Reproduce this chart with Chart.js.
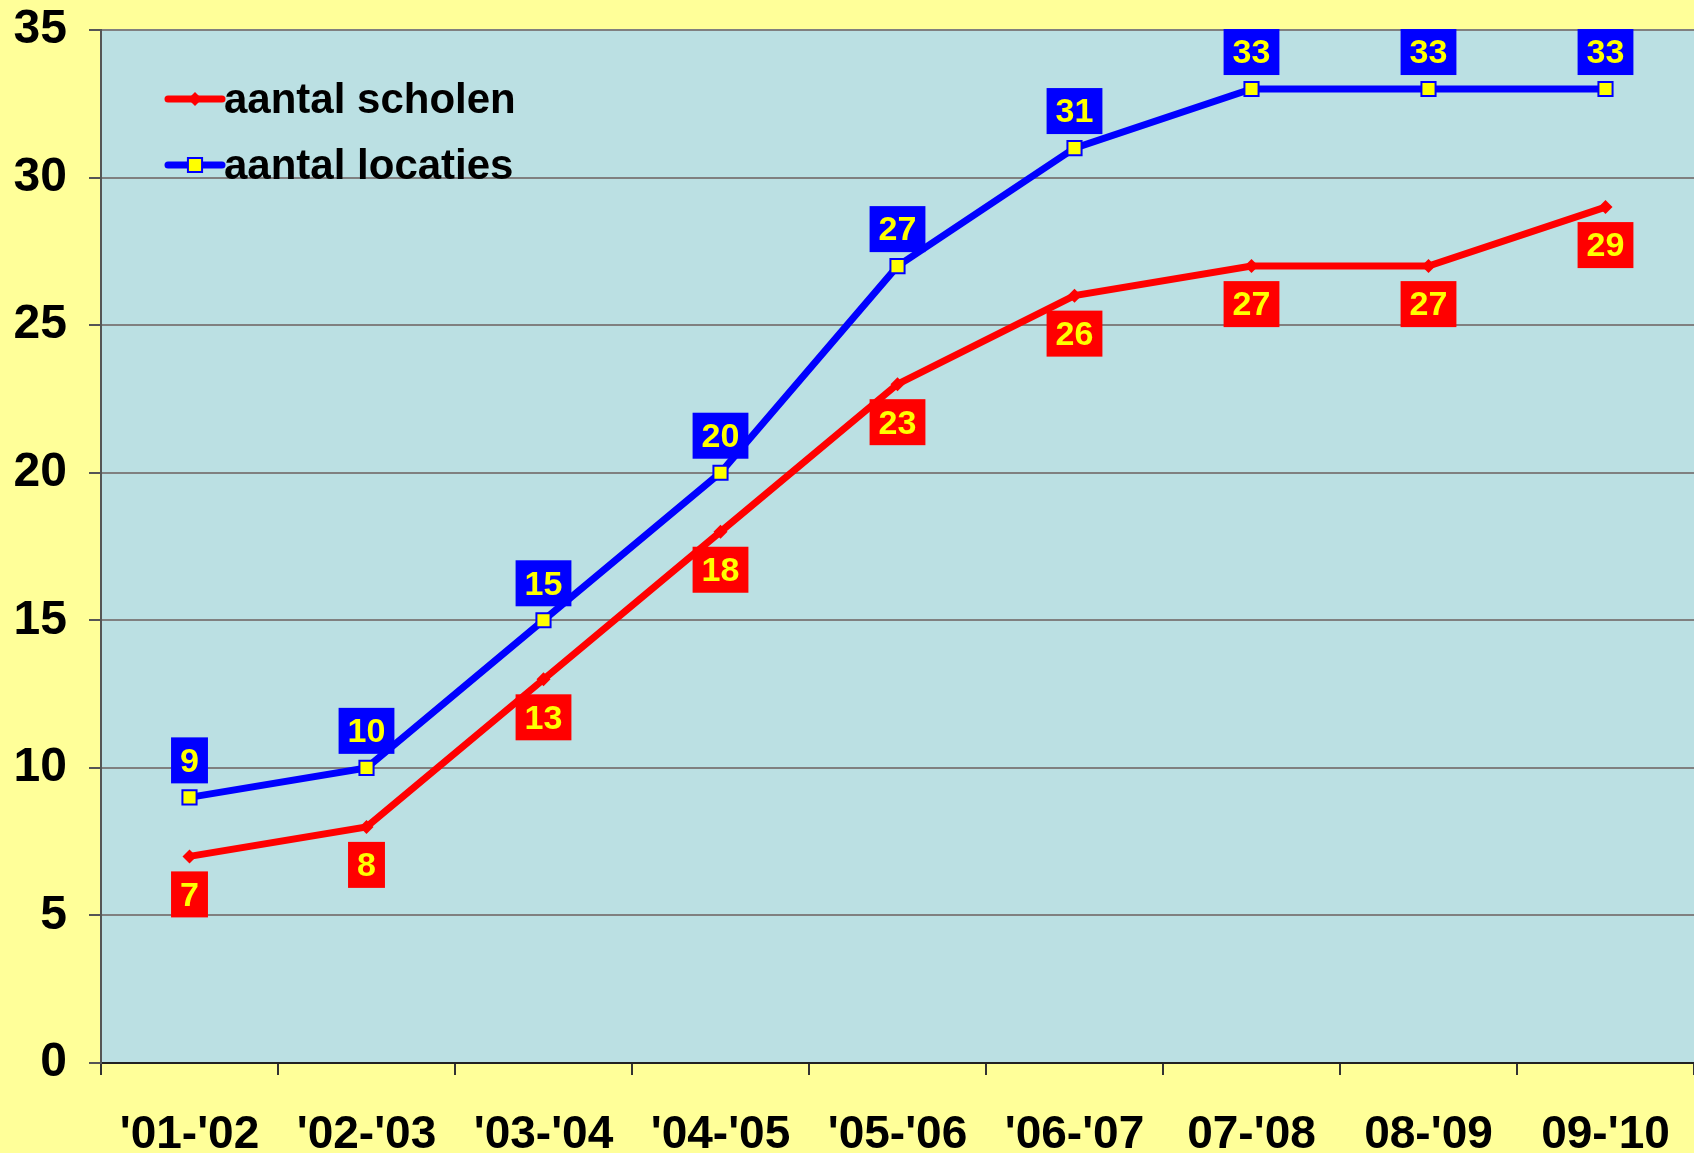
<!DOCTYPE html>
<html>
<head>
<meta charset="utf-8">
<script src="https://cdn.jsdelivr.net/npm/chart.js@4.4.0/dist/chart.umd.min.js"></script>
<style>
  html, body { margin: 0; padding: 0; background: #FFFF99; overflow: hidden; }
  canvas { display: block; }
</style>
</head>
<body>
<canvas id="chart" width="1694" height="1153"></canvas>
<script>
// --- DATA ---
const schooljaren = ["'01-'02", "'02-'03", "'03-'04", "'04-'05", "'05-'06", "'06-'07", "07-'08", "08-'09", "09-'10"];
const aantalScholen = [7, 8, 13, 18, 23, 26, 27, 27, 29];
const aantalLocaties = [9, 10, 15, 20, 27, 31, 33, 33, 33];
const yTicks = [0, 5, 10, 15, 20, 25, 30, 35];

const FONT = 'Liberation Sans, Arial, sans-serif';

// achtergrond van het plotgebied
const plotBackground = {
    id: 'plotBackground',
    beforeDraw(chart) {
        const { ctx, chartArea: a } = chart;
        ctx.save();
        ctx.fillStyle = '#BBE0E3';
        ctx.fillRect(a.left, a.top, a.right - a.left, a.bottom - a.top);
        ctx.restore();
    }
};

// waardelabels: blauw boven, rood onder
const valueBoxes = {
    id: 'valueBoxes',
    afterDatasetsDraw(chart) {
        const ctx = chart.ctx;
        ctx.save();
        ctx.font = 'bold 34px ' + FONT;
        ctx.textAlign = 'center';
        ctx.textBaseline = 'middle';
        chart.data.datasets.forEach((ds, i) => {
            const meta = chart.getDatasetMeta(i);
            const above = ds.labelPos === 'above';
            meta.data.forEach((pt, j) => {
                const txt = String(ds.data[j]);
                const w = ctx.measureText(txt).width + 18;
                const h = 46;
                const cy = above ? pt.y - 37 : pt.y + 38;
                ctx.fillStyle = ds.borderColor;
                ctx.fillRect(pt.x - w / 2, cy - h / 2, w, h);
                ctx.fillStyle = '#FFFF00';
                ctx.fillText(txt, pt.x, cy + 2);
            });
        });
        ctx.restore();
    }
};

// legenda binnen het plotgebied
const innerLegend = {
    id: 'innerLegend',
    afterDatasetsDraw(chart) {
        const ctx = chart.ctx;
        ctx.save();
        chart.data.datasets.forEach((ds, i) => {
            const y = 99 + i * 66;
            ctx.strokeStyle = ds.borderColor;
            ctx.lineWidth = 7;
            ctx.lineCap = 'round';
            ctx.beginPath();
            ctx.moveTo(168, y);
            ctx.lineTo(222, y);
            ctx.stroke();
            ctx.fillStyle = ds.pointBackgroundColor;
            ctx.strokeStyle = ds.pointBorderColor;
            ctx.lineWidth = ds.pointBorderWidth;
            ctx.beginPath();
            if (ds.pointStyle === 'rect') {
                const s = ds.pointRadius * Math.SQRT1_2;
                ctx.rect(195 - s, y - s, 2 * s, 2 * s);
            } else {
                const r = ds.pointRadius;
                ctx.moveTo(195, y - r); ctx.lineTo(195 + r, y);
                ctx.lineTo(195, y + r); ctx.lineTo(195 - r, y);
                ctx.closePath();
            }
            ctx.fill();
            if (ds.pointBorderWidth) ctx.stroke();
            ctx.fillStyle = '#000';
            ctx.font = 'bold 42px ' + FONT;
            ctx.textAlign = 'left';
            ctx.textBaseline = 'middle';
            ctx.fillText(ds.label, 224, y + 2);
        });
        ctx.restore();
    }
};

new Chart(document.getElementById('chart'), {
    type: 'line',
    data: {
        labels: schooljaren,
        datasets: [
            {
                label: 'aantal scholen',
                data: aantalScholen,
                borderColor: '#FF0000',
                borderWidth: 7,
                pointStyle: 'rectRot',
                pointRadius: 7,
                pointBackgroundColor: '#FF0000',
                pointBorderColor: '#FF0000',
                pointBorderWidth: 0,
                labelPos: 'below'
            },
            {
                label: 'aantal locaties',
                data: aantalLocaties,
                borderColor: '#0000FF',
                borderWidth: 7,
                pointStyle: 'rect',
                pointRadius: 10,
                pointBackgroundColor: '#FFFF00',
                pointBorderColor: '#0000FF',
                pointBorderWidth: 2,
                labelPos: 'above'
            }
        ]
    },
    options: {
        responsive: false,
        animation: false,
        devicePixelRatio: 1,
        layout: { autoPadding: false, padding: { top: 30, left: 0, right: -7, bottom: 0 } },
        plugins: {
            legend: { display: false },
            tooltip: { enabled: false }
        },
        scales: {
            x: {
                offset: true,
                grid: {
                    offset: true,
                    drawOnChartArea: false,
                    drawTicks: true,
                    tickLength: 12,
                    tickColor: '#333',
                    lineWidth: 2
                },
                border: { color: '#222', width: 2 },
                ticks: {
                    color: '#000',
                    font: { family: FONT, size: 46, weight: 'bold' },
                    padding: 33,
                    maxRotation: 0,
                    autoSkip: false
                },
                afterFit(scale) {
                    scale.height = 90;
                    scale.paddingLeft = 0;
                    scale.paddingRight = 0;
                }
            },
            y: {
                min: 0,
                max: 35,
                afterBuildTicks(scale) { scale.ticks = yTicks.map(v => ({ value: v })); },
                grid: {
                    color: '#808080',
                    lineWidth: 2,
                    tickLength: 12,
                    tickColor: '#555'
                },
                border: { color: '#555', width: 2 },
                ticks: {
                    color: '#000',
                    font: { family: FONT, size: 48, weight: 'bold' },
                    padding: 22
                },
                afterFit(scale) {
                    scale.width = 101;
                    scale.paddingTop = 0;
                    scale.paddingBottom = 0;
                }
            }
        }
    },
    plugins: [plotBackground, valueBoxes, innerLegend]
});
</script>
</body>
</html>
